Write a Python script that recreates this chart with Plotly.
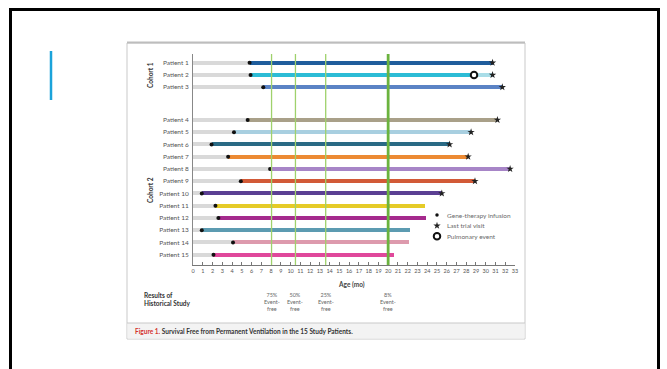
import plotly.graph_objects as go

# ---- data -------------------------------------------------------------
patients = [f"Patient {i}" for i in range(1, 16)]
cohort = [1, 1, 1, 2, 2, 2, 2, 2, 2, 2, 2, 2, 2, 2, 2]
infusion_age = [5.8, 5.9, 7.2, 5.6, 4.2, 1.9, 3.6, 7.9, 4.9, 0.9, 2.3, 2.6, 0.9, 4.1, 2.1]
followup_end = [30.7, 30.7, 31.7, 31.2, 28.5, 26.3, 28.2, 32.5, 28.9, 25.5,
                23.8, 23.9, 22.2, 22.1, 20.6]
last_trial_visit = [True] * 10 + [False] * 5
pulmonary_event = [None, 28.8] + [None] * 13
bar_colors = ["#1f5d9c", "#2cbcd6", "#5b83c5", "#a9a089", "#a8cfe0", "#2a6a85",
              "#ec8a33", "#a785c7", "#d25a37", "#5b3f93", "#e5cb27", "#a52a8d",
              "#5c9bb1", "#dd9aad", "#e0489b"]
after_event_color = "#a9dde8"

hist_months = [8.05, 10.5, 13.6, 20.0]
hist_event_free = ["75%", "50%", "25%", "8%"]

x_ticks = list(range(0, 34))

# ---- page geometry (pixels) ------------------------------------------
W, H = 667, 369
L, R, T, B = 193, 515, 54, 265
FONT = "Lato"


def px(x):
    return (x - L) / (R - L)


def py(y):
    return (B - y) / (B - T)


# row positions: extra gap between cohort 1 and cohort 2
GAP = 1.67
row_y = [i + (GAP if c == 2 else 0) for i, c in enumerate(cohort)]
ROW_PX = 12.25
y_top = -(62.7 - T) / ROW_PX
y_bot = (B - 62.7) / ROW_PX

fig = go.Figure()

# grey bars: birth to gene-therapy infusion
fig.add_trace(go.Bar(
    y=row_y, x=infusion_age, base=0, orientation="h", width=0.34,
    marker=dict(color="#d9d9d9", line=dict(width=0)), showlegend=False,
    hoverinfo="skip"))

# coloured bars: infusion to end of follow-up (or pulmonary event)
col_end = [pe if pe is not None else fe for pe, fe in zip(pulmonary_event, followup_end)]
fig.add_trace(go.Bar(
    y=row_y, x=[e - s for e, s in zip(col_end, infusion_age)], base=infusion_age,
    orientation="h", width=0.34,
    marker=dict(color=bar_colors, line=dict(width=0)), showlegend=False))

# pale segment after a pulmonary event
pe_rows = [y for y, pe in zip(row_y, pulmonary_event) if pe is not None]
pe_x = [pe for pe in pulmonary_event if pe is not None]
pe_end = [fe for fe, pe in zip(followup_end, pulmonary_event) if pe is not None]
fig.add_trace(go.Bar(
    y=pe_rows, x=[e - s for e, s in zip(pe_end, pe_x)], base=pe_x,
    orientation="h", width=0.34,
    marker=dict(color=after_event_color, line=dict(width=0)), showlegend=False))

# markers
fig.add_trace(go.Scatter(
    x=infusion_age, y=row_y, mode="markers", cliponaxis=False,
    marker=dict(symbol="circle", size=4, color="#111"), showlegend=False))
fig.add_trace(go.Scatter(
    x=[fe for fe, lv in zip(followup_end, last_trial_visit) if lv],
    y=[y for y, lv in zip(row_y, last_trial_visit) if lv],
    mode="markers", cliponaxis=False,
    marker=dict(symbol="star", size=5.5, color="#222"), showlegend=False))
fig.add_trace(go.Scatter(
    x=pe_x, y=pe_rows, mode="markers", cliponaxis=False,
    marker=dict(symbol="circle", size=6.5, color="white",
                line=dict(color="#111", width=2)), showlegend=False))

# key, drawn on an overlay axis measured in page pixels
key_x = 437
key_rows = [215, 225.7, 236.3]
key_text = ["Gene-therapy infusion", "Last trial visit", "Pulmonary event"]
key_marker = [dict(symbol="circle", size=3.5, color="#111"),
              dict(symbol="star", size=5.5, color="#222"),
              dict(symbol="circle", size=6.5, color="white", line=dict(color="#111", width=2))]
for yk, mk in zip(key_rows, key_marker):
    fig.add_trace(go.Scatter(x=[key_x], y=[yk], mode="markers", marker=mk,
                             xaxis="x2", yaxis="y2", showlegend=False, cliponaxis=False))

annotations = []
for yk, tx in zip(key_rows, key_text):
    annotations.append(dict(x=px(445), y=py(yk), xref="paper", yref="paper", text=tx,
                            showarrow=False, xanchor="left", yanchor="middle",
                            font=dict(family=FONT, size=6.5, color="#6a6a6a")))

shapes = []
# outer slide frame
shapes.append(dict(type="rect", xref="paper", yref="paper", x0=px(10.5), x1=px(658.5),
                   y0=py(420), y1=py(9.5), line=dict(color="black", width=3),
                   fillcolor="white", layer="below"))
# accent bar
shapes.append(dict(type="line", xref="paper", yref="paper", x0=px(51), x1=px(51),
                   y0=py(51), y1=py(100), line=dict(color="#1ba3da", width=2.5)))
# figure panel
shapes.append(dict(type="rect", xref="paper", yref="paper", x0=px(127), x1=px(525),
                   y0=py(339), y1=py(43), line=dict(color="#c9c9c9", width=1),
                   fillcolor="white", layer="below"))
shapes.append(dict(type="line", xref="paper", yref="paper", x0=px(127), x1=px(525),
                   y0=py(42.5), y1=py(42.5), line=dict(color="#bdbdbd", width=2),
                   layer="below"))
# caption band
shapes.append(dict(type="rect", xref="paper", yref="paper", x0=px(127.5), x1=px(524.5),
                   y0=py(338.5), y1=py(323), line=dict(width=0),
                   fillcolor="#f3f3f3", layer="below"))
shapes.append(dict(type="line", xref="paper", yref="paper", x0=px(127), x1=px(525),
                   y0=py(323), y1=py(323), line=dict(color="#c9c9c9", width=1),
                   layer="below"))
# historical-study reference lines
for m in hist_months:
    strong = m == hist_months[-1]
    shapes.append(dict(type="line", xref="x", yref="paper", x0=m, x1=m, y0=0, y1=1,
                       line=dict(color="#6bb33e" if strong else "#9fd16c",
                                 width=2.8 if strong else 1.3),
                       layer="above"))

# cohort labels
annotations.append(dict(x=px(150), y=py(75), xref="paper", yref="paper", text="<b>Cohort 1</b>",
                        textangle=-90, showarrow=False, xanchor="center", yanchor="middle",
                        font=dict(family=FONT, size=6.5, color="#333")))
annotations.append(dict(x=px(150), y=py(190), xref="paper", yref="paper", text="<b>Cohort 2</b>",
                        textangle=-90, showarrow=False, xanchor="center", yanchor="middle",
                        font=dict(family=FONT, size=6.5, color="#333")))
# axis title
annotations.append(dict(x=px(351), y=py(284), xref="paper", yref="paper", text="<b>Age (mo)</b>",
                        showarrow=False, xanchor="center", yanchor="middle",
                        font=dict(family=FONT, size=6.5, color="#444")))
# historical study row
annotations.append(dict(x=px(142), y=py(290), xref="paper", yref="paper",
                        text="<b>Results of<br>Historical Study</b>", showarrow=False,
                        xanchor="left", yanchor="top", align="left",
                        font=dict(family=FONT, size=6.5, color="#333")))
for m, pct in zip(hist_months, hist_event_free):
    annotations.append(dict(x=m, y=py(290), xref="x", yref="paper",
                            text=f"{pct}<br>Event-<br>free", showarrow=False,
                            xanchor="center", yanchor="top", align="center",
                            font=dict(family=FONT, size=5.5, color="#666")))
# caption
annotations.append(dict(x=px(133), y=py(331.5), xref="paper", yref="paper",
                        text="<b><span style='color:#d3312c'>Figure 1.</span> Survival Free from "
                             "Permanent Ventilation in the 15 Study Patients.</b>",
                        showarrow=False, xanchor="left", yanchor="middle",
                        font=dict(family=FONT, size=6.5, color="#333")))

fig.update_layout(
    width=W, height=H,
    margin=dict(l=L, r=W - R, t=T, b=H - B),
    paper_bgcolor="white", plot_bgcolor="rgba(0,0,0,0)",
    barmode="overlay", bargap=0,
    font=dict(family=FONT, color="#555"),
    shapes=shapes, annotations=annotations,
    xaxis=dict(range=[0, 33], tickvals=x_ticks, ticktext=[str(t) for t in x_ticks],
               showgrid=False, zeroline=False, showline=True, linecolor="#777", linewidth=1,
               ticks="inside", ticklen=3, tickcolor="#777", tickwidth=1,
               tickfont=dict(family=FONT, size=5.5, color="#555"), fixedrange=True),
    yaxis=dict(range=[y_bot, y_top], tickvals=row_y, ticktext=patients,
               showgrid=False, zeroline=False, showline=True, linecolor="#888", linewidth=1,
               ticks="", ticklabelstandoff=2,
               tickfont=dict(family=FONT, size=6.5, color="#555"), fixedrange=True),
    xaxis2=dict(range=[L, R], overlaying="x", visible=False, fixedrange=True),
    yaxis2=dict(range=[B, T], overlaying="y", visible=False, fixedrange=True),
)

fig.write_html("out.html")
